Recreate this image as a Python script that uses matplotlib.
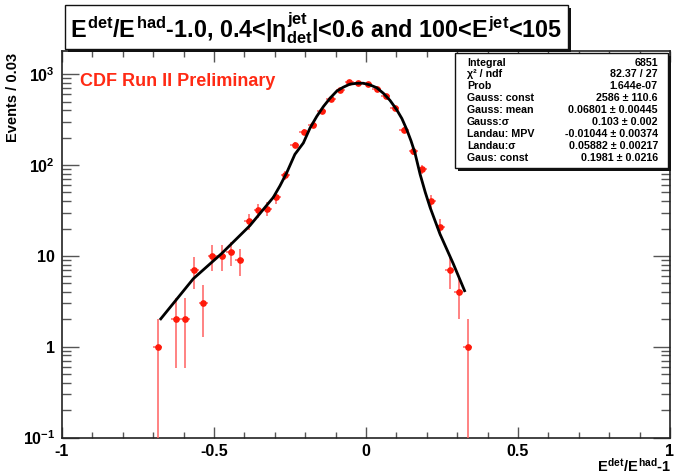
import numpy as np
import matplotlib
matplotlib.use("Agg")
import matplotlib.pyplot as plt
from matplotlib.patches import Rectangle
from matplotlib.ticker import LogLocator, NullFormatter, MultipleLocator

plt.rcParams['font.family'] = 'Liberation Sans'
plt.rcParams['font.weight'] = 'bold'
plt.rcParams['mathtext.fontset'] = 'custom'
plt.rcParams['mathtext.rm'] = 'Liberation Sans:bold'
plt.rcParams['mathtext.it'] = 'Liberation Sans:bold'
plt.rcParams['mathtext.bf'] = 'Liberation Sans:bold'

# histogram bins (width 0.03) and entries
bin_x = [-0.685, -0.625, -0.595, -0.565, -0.535, -0.505, -0.475, -0.445, -0.415,
         -0.385, -0.355, -0.325, -0.295, -0.265, -0.235, -0.205, -0.175, -0.145,
         -0.115, -0.085, -0.055, -0.025, 0.005, 0.035, 0.065, 0.095, 0.125,
         0.155, 0.185, 0.215, 0.245, 0.275, 0.305, 0.335]
counts = [1, 2, 2, 7, 3, 10, 10, 11, 9,
          24, 32, 33, 44, 77, 168, 231, 274, 396,
          536, 672, 815, 790, 780, 682, 568, 423, 246,
          142, 90, 40, 21, 7, 4, 1]
bin_half = 0.015

# fitted function sampled along the fit range
fit_x = [-0.678, -0.568, -0.475, -0.382, -0.305, -0.283, -0.261, -0.234, -0.206,
         -0.184, -0.162, -0.140, -0.118, -0.096, -0.075, -0.053, -0.031, -0.009,
         0.013, 0.035, 0.057, 0.079, 0.101, 0.118, 0.134, 0.148, 0.161, 0.178,
         0.195, 0.211, 0.243, 0.287, 0.326]
fit_y = [1.97, 5.6, 10.6, 21.5, 44, 59, 82, 131, 175,
         256, 343, 441, 545, 652, 718, 777, 793, 795,
         762, 710, 617, 515, 406, 325, 246, 185, 136, 79,
         50, 34, 17.5, 8.2, 4.0]

stat_names = ["Integral", "\u03c7\u00b2 / ndf", "Prob", "Gauss: const", "Gauss: mean",
              "Gauss:\u03c3", "Landau: MPV", "Landau:\u03c3", "Gaus: const"]
stat_values = ["6851", "82.37 / 27", "1.644e-07", "2586 \u00b1 110.6",
               "0.06801 \u00b1 0.00445", "0.103 \u00b1 0.002",
               "-0.01044 \u00b1 0.00374", "0.05882 \u00b1 0.00217",
               "0.1981 \u00b1 0.0216"]

W, H = 675, 475


def fx(px):
    return px / W


def fy(py):
    return 1 - py / H


fig = plt.figure(figsize=(W / 100, H / 100), dpi=100)
ax = fig.add_axes([fx(62), fy(437.5), (670 - 62) / W, (437.5 - 51) / H])

y = np.array(counts, dtype=float)
err = np.sqrt(y)
err_lo = np.where(err >= y, y - 1e-6, err)

ax.errorbar(bin_x, y, xerr=bin_half, yerr=[err_lo, err], fmt='none',
            ecolor='#ff6060', elinewidth=1.1, capsize=0, zorder=3)
ax.plot(bin_x, y, 'o', ms=3.8, color='#ff1a0a', mec='#ff1a0a', zorder=4)
ax.plot(fit_x, fit_y, color='black', lw=2.0, zorder=5, solid_capstyle='butt')

ax.set_yscale('log')
ax.set_xlim(-1, 1)
ax.set_ylim(0.1, 1800)
ax.set_xticks([-1, -0.5, 0, 0.5, 1], ['-1', '-0.5', '0', '0.5', '1'])
ax.xaxis.set_minor_locator(MultipleLocator(0.1))
ax.set_yticks([0.1, 1, 10, 100, 1000],
              [r'$10^{-1}$', '1', '10', r'$10^{2}$', r'$10^{3}$'])
ax.yaxis.set_minor_locator(LogLocator(base=10, subs=np.arange(2, 10)))
ax.yaxis.set_minor_formatter(NullFormatter())

ax.tick_params(which='both', direction='in', top=True, right=True,
               labelsize=11.5, color='#555555', width=1.0)
ax.tick_params(axis='x', which='major', length=8, pad=5)
ax.tick_params(axis='x', which='minor', length=4)
ax.tick_params(axis='y', which='major', length=12, pad=5)
ax.tick_params(axis='y', which='minor', length=6.5)
for s in ax.spines.values():
    s.set_linewidth(1.2)
    s.set_color('#222222')

# axis titles, ROOT style
fig.text(fx(13), fy(53), 'Events / 0.03', rotation=90, ha='center', va='top',
         fontsize=10.5)
fig.text(fx(671), fy(475), r'$E^{det}/E^{had}$-1', ha='right', va='bottom',
         fontsize=10.5)

# title box with shadow
fig.patches.append(Rectangle((fx(67.5), fy(51.5)), (568 - 65) / W, (49 - 5) / H,
                             transform=fig.transFigure, facecolor='#111111',
                             edgecolor='none', zorder=10))
fig.patches.append(Rectangle((fx(65), fy(49)), (568 - 65) / W, (49 - 5) / H,
                             transform=fig.transFigure, facecolor='white',
                             edgecolor='#111111', lw=1.0, zorder=11))
fig.text(fx(316), fy(28),
         r'$E^{det}/E^{had}$-1.0, 0.4<|$\eta^{jet}_{det}$|<0.6 and 100<$E^{jet}$<105',
         ha='center', va='center', fontsize=16.8, zorder=12)

# fit statistics box with shadow
fig.patches.append(Rectangle((fx(458), fy(171)), (668 - 455) / W, (168 - 53) / H,
                             transform=fig.transFigure, facecolor='#111111',
                             edgecolor='none', zorder=10))
fig.patches.append(Rectangle((fx(455), fy(168)), (668 - 455) / W, (168 - 53) / H,
                             transform=fig.transFigure, facecolor='white',
                             edgecolor='#111111', lw=1.0, zorder=11))
for i, (name, val) in enumerate(zip(stat_names, stat_values)):
    row_base = 65.5 + i * 11.95
    fig.text(fx(467), fy(row_base), name, ha='left', va='baseline', fontsize=7.7,
             zorder=12)
    fig.text(fx(658), fy(row_base), val, ha='right', va='baseline', fontsize=7.7,
             zorder=12)

fig.text(fx(80), fy(82), 'CDF Run II Preliminary', color='#ff2a14',
         ha='left', va='center', fontsize=13)

fig.savefig('out.png', dpi=100)
